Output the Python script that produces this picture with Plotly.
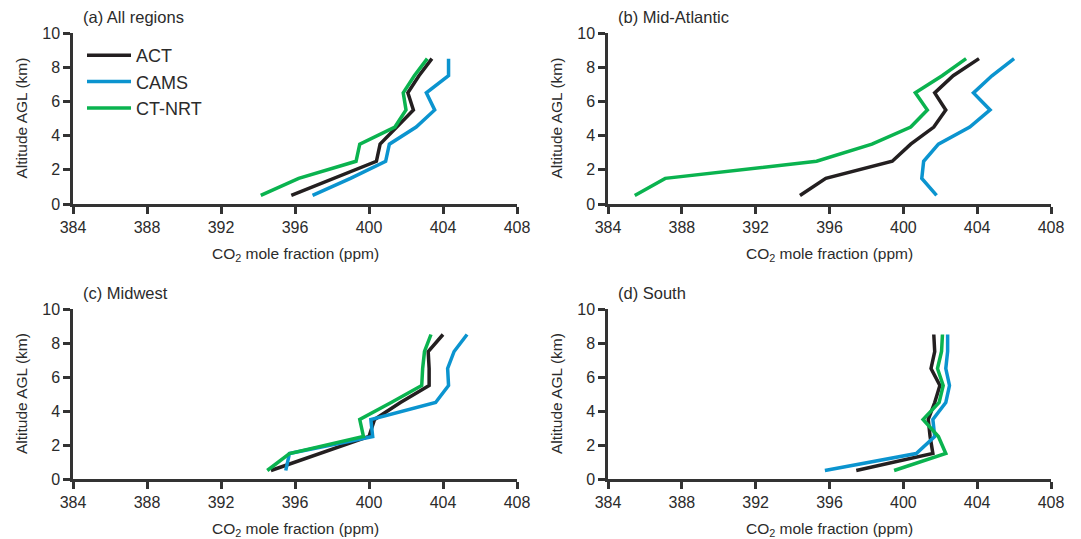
import plotly.graph_objects as go

W, H = 1081, 539

altitude = [0.5, 1.5, 2.5, 3.5, 4.5, 5.5, 6.5, 7.5, 8.5]
series_names = ["ACT", "CAMS", "CT-NRT"]
series_colors = ["#231f20", "#0b94cf", "#0ab34f"]

all_act = [395.8, 398.1, 400.4, 400.6, 401.5, 402.4, 402.1, 402.7, 403.4]
all_cams = [396.95, 399.0, 400.9, 401.1, 402.55, 403.55, 403.1, 404.3, 404.3]
all_ctnrt = [394.15, 396.2, 399.3, 399.5, 401.4, 402.0, 401.85, 402.45, 403.15]

mida_act = [394.4, 395.8, 399.4, 400.4, 401.65, 402.3, 401.7, 402.7, 404.1]
mida_cams = [401.8, 401.0, 401.1, 401.9, 403.6, 404.7, 403.8, 404.8, 406.0]
mida_ctnrt = [385.45, 387.1, 395.3, 398.3, 400.4, 401.3, 400.65, 402.1, 403.4]

midw_act = [394.7, 397.4, 400.0, 400.3, 401.7, 403.25, 403.25, 403.2, 404.0]
midw_cams = [395.5, 395.7, 400.2, 400.1, 403.6, 404.3, 404.25, 404.6, 405.3]
midw_ctnrt = [394.5, 395.7, 399.7, 399.5, 401.2, 402.85, 402.9, 403.0, 403.35]

south_act = [397.45, 401.6, 401.45, 401.35, 401.7, 401.98, 401.5, 401.7, 401.65]
south_cams = [395.75, 400.7, 401.7, 401.6, 402.3, 402.5, 402.3, 402.4, 402.4]
south_ctnrt = [399.5, 402.3, 401.9, 401.07, 401.94, 402.16, 401.85, 402.07, 402.12]

panel_titles = ["(a) All regions", "(b) Mid-Atlantic", "(c) Midwest", "(d) South"]
panel_data = [
    [all_act, all_cams, all_ctnrt],
    [mida_act, mida_cams, mida_ctnrt],
    [midw_act, midw_cams, midw_ctnrt],
    [south_act, south_cams, south_ctnrt],
]

x_ticks = [384, 388, 392, 396, 400, 404, 408]
y_ticks = [0, 2, 4, 6, 8, 10]
x_title = "CO<sub>2</sub> mole fraction (ppm)"
y_title = "Altitude AGL (km)"

FONT = "Liberation Sans, Arial, sans-serif"
TXT = "#2b2b2b"
AX = "#333333"

# panel pixel boxes: (left, right, top, bottom)
boxes = [
    (73, 517, 33, 204),
    (608, 1051, 33, 204),
    (73, 517, 309, 479),
    (608, 1051, 309, 479),
]

fig = go.Figure()
layout = dict(
    template="none",
    width=W, height=H,
    margin=dict(l=0, r=0, t=0, b=0, autoexpand=False),
    paper_bgcolor="white", plot_bgcolor="white",
    font=dict(family=FONT, color=TXT),
    showlegend=True,
    legend=dict(
        x=82 / W, y=1 - 37 / H, xanchor="left", yanchor="top",
        font=dict(size=18, family=FONT, color=TXT),
        bgcolor="rgba(0,0,0,0)", borderwidth=0,
        itemwidth=44, tracegroupgap=0,
    ),
)
annotations = []
for i, (box, data, title) in enumerate(zip(boxes, panel_data, panel_titles)):
    l, r, t, b = box
    xa = "xaxis" if i == 0 else f"xaxis{i+1}"
    ya = "yaxis" if i == 0 else f"yaxis{i+1}"
    xr = "x" if i == 0 else f"x{i+1}"
    yr = "y" if i == 0 else f"y{i+1}"
    common = dict(
        showline=True, linecolor=AX, linewidth=2.5,
        ticks="outside", ticklen=7, tickwidth=2.5, tickcolor=AX,
        showgrid=False, zeroline=False, automargin=False,
        tickfont=dict(size=16, family=FONT, color=TXT),
    )
    layout[xa] = dict(
        domain=[l / W, r / W], range=[384, 408], tickvals=x_ticks,
        anchor=yr, **common,
    )
    layout[ya] = dict(
        domain=[1 - b / H, 1 - t / H], range=[0, 10], tickvals=y_ticks,
        anchor=xr, **common,
    )
    for name, color, vals in zip(series_names, series_colors, data):
        fig.add_trace(go.Scatter(
            x=vals, y=altitude, mode="lines", name=name,
            line=dict(color=color, width=3.5),
            xaxis=xr, yaxis=yr, showlegend=(i == 0),
        ))
    annotations.append(dict(
        text=title, xref="paper", yref="paper", x=(l + 8) / W, y=1 - (t - 16) / H,
        xanchor="left", yanchor="middle", showarrow=False,
        font=dict(size=16.5, family=FONT, color=TXT),
    ))
    annotations.append(dict(
        text=y_title, xref="paper", yref="paper", x=(l - 52) / W, y=1 - ((t + b) / 2) / H,
        xanchor="center", yanchor="middle", textangle=-90, showarrow=False,
        font=dict(size=15.5, family=FONT, color=TXT),
    ))
    annotations.append(dict(
        text=x_title, xref="paper", yref="paper", x=((l + r) / 2) / W, y=1 - (b + 50) / H,
        xanchor="center", yanchor="middle", showarrow=False,
        font=dict(size=15.5, family=FONT, color=TXT),
    ))

layout["annotations"] = annotations
fig.update_layout(**layout)
fig.write_html("out.html")
